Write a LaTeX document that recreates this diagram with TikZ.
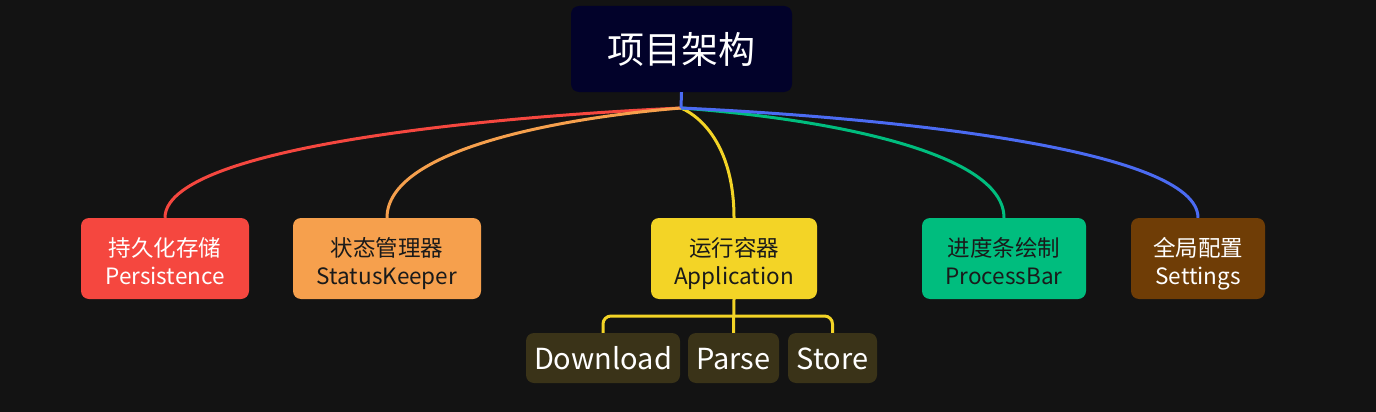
\documentclass[tikz,border=0pt]{standalone}
\usepackage{fontspec}
\setmainfont{Noto Sans CJK SC}
\definecolor{bg}{HTML}{131313}
\definecolor{rootfill}{HTML}{02022A}
\definecolor{cred}{HTML}{F5473F}
\definecolor{corange}{HTML}{F6A04D}
\definecolor{cyellow}{HTML}{F3D426}
\definecolor{cgreen}{HTML}{00BD7E}
\definecolor{cbrown}{HTML}{6F3D06}
\definecolor{cblue}{HTML}{4B6BF2}
\definecolor{subfill}{HTML}{3A3318}
\definecolor{darktext}{HTML}{1A1A1A}
\newcommand\twolines[2]{\rule{0pt}{23.8pt}#1\\\smash{#2}}
\begin{document}
\begin{tikzpicture}[x=1pt,y=-1pt,
  rootbox/.style={fill=rootfill, rounded corners=8pt, minimum width=221pt, minimum height=86pt,
    text=white, font=\fontsize{37pt}{40pt}\selectfont, inner sep=0pt},
  childbox/.style={rounded corners=8pt, minimum height=81pt, inner sep=0pt, align=center,
    font=\fontsize{22.5pt}{28pt}\selectfont},
  subbox/.style={fill=subfill, rounded corners=8pt, minimum height=50pt, inner sep=0pt,
    text height=22pt, text depth=0pt,
    text=white, font=\fontsize{29pt}{32pt}\selectfont},
  link/.style={line width=3pt},
]
\useasboundingbox[fill=bg] (0,0) rectangle (1376,412);

\node[rootbox] (root) at (681.5,49) {项目架构};

\node[childbox, fill=cred, text=white, minimum width=168pt] (per) at (165,258.5) {\twolines{持久化存储}{Persistence}};
\node[childbox, fill=corange, text=darktext, minimum width=188pt] (sta) at (387,258.5) {\twolines{状态管理器}{StatusKeeper}};
\node[childbox, fill=cyellow, text=darktext, minimum width=166pt] (app) at (734,258.5) {\twolines{运行容器}{Application}};
\node[childbox, fill=cgreen, text=darktext, minimum width=164pt] (pro) at (1004,258.5) {\twolines{进度条绘制}{ProcessBar}};
\node[childbox, fill=cbrown, text=white, minimum width=134pt] (set) at (1198,258.5) {\twolines{全局配置}{Settings}};

\node[subbox, minimum width=154pt] (dl) at (603,358) {Download};
\node[subbox, minimum width=91pt] (pa) at (733.5,358) {Parse};
\node[subbox, minimum width=89pt] (st) at (832.5,358) {Store};

\coordinate (J) at (681,108);
\coordinate (bar) at (734,316);

\draw[link, cred] (J) .. controls (464,118) and (165,150) .. (per.north);
\draw[link, corange] (J) .. controls (558,118) and (387,150) .. (sta.north);
\draw[link, cyellow] (J) .. controls (704,118) and (734,150) .. (app.north);
\draw[link, cgreen] (J) .. controls (817,118) and (1004,150) .. (pro.north);
\draw[link, cblue] (J) .. controls (898,118) and (1198,150) .. (set.north);
\draw[link, cblue] (root.south) -- (J);

\draw[link, cyellow] (app.south) -- (pa.north);
\draw[link, cyellow, rounded corners=8pt] (dl.north) |- (bar) -| (st.north);
\end{tikzpicture}
\end{document}
